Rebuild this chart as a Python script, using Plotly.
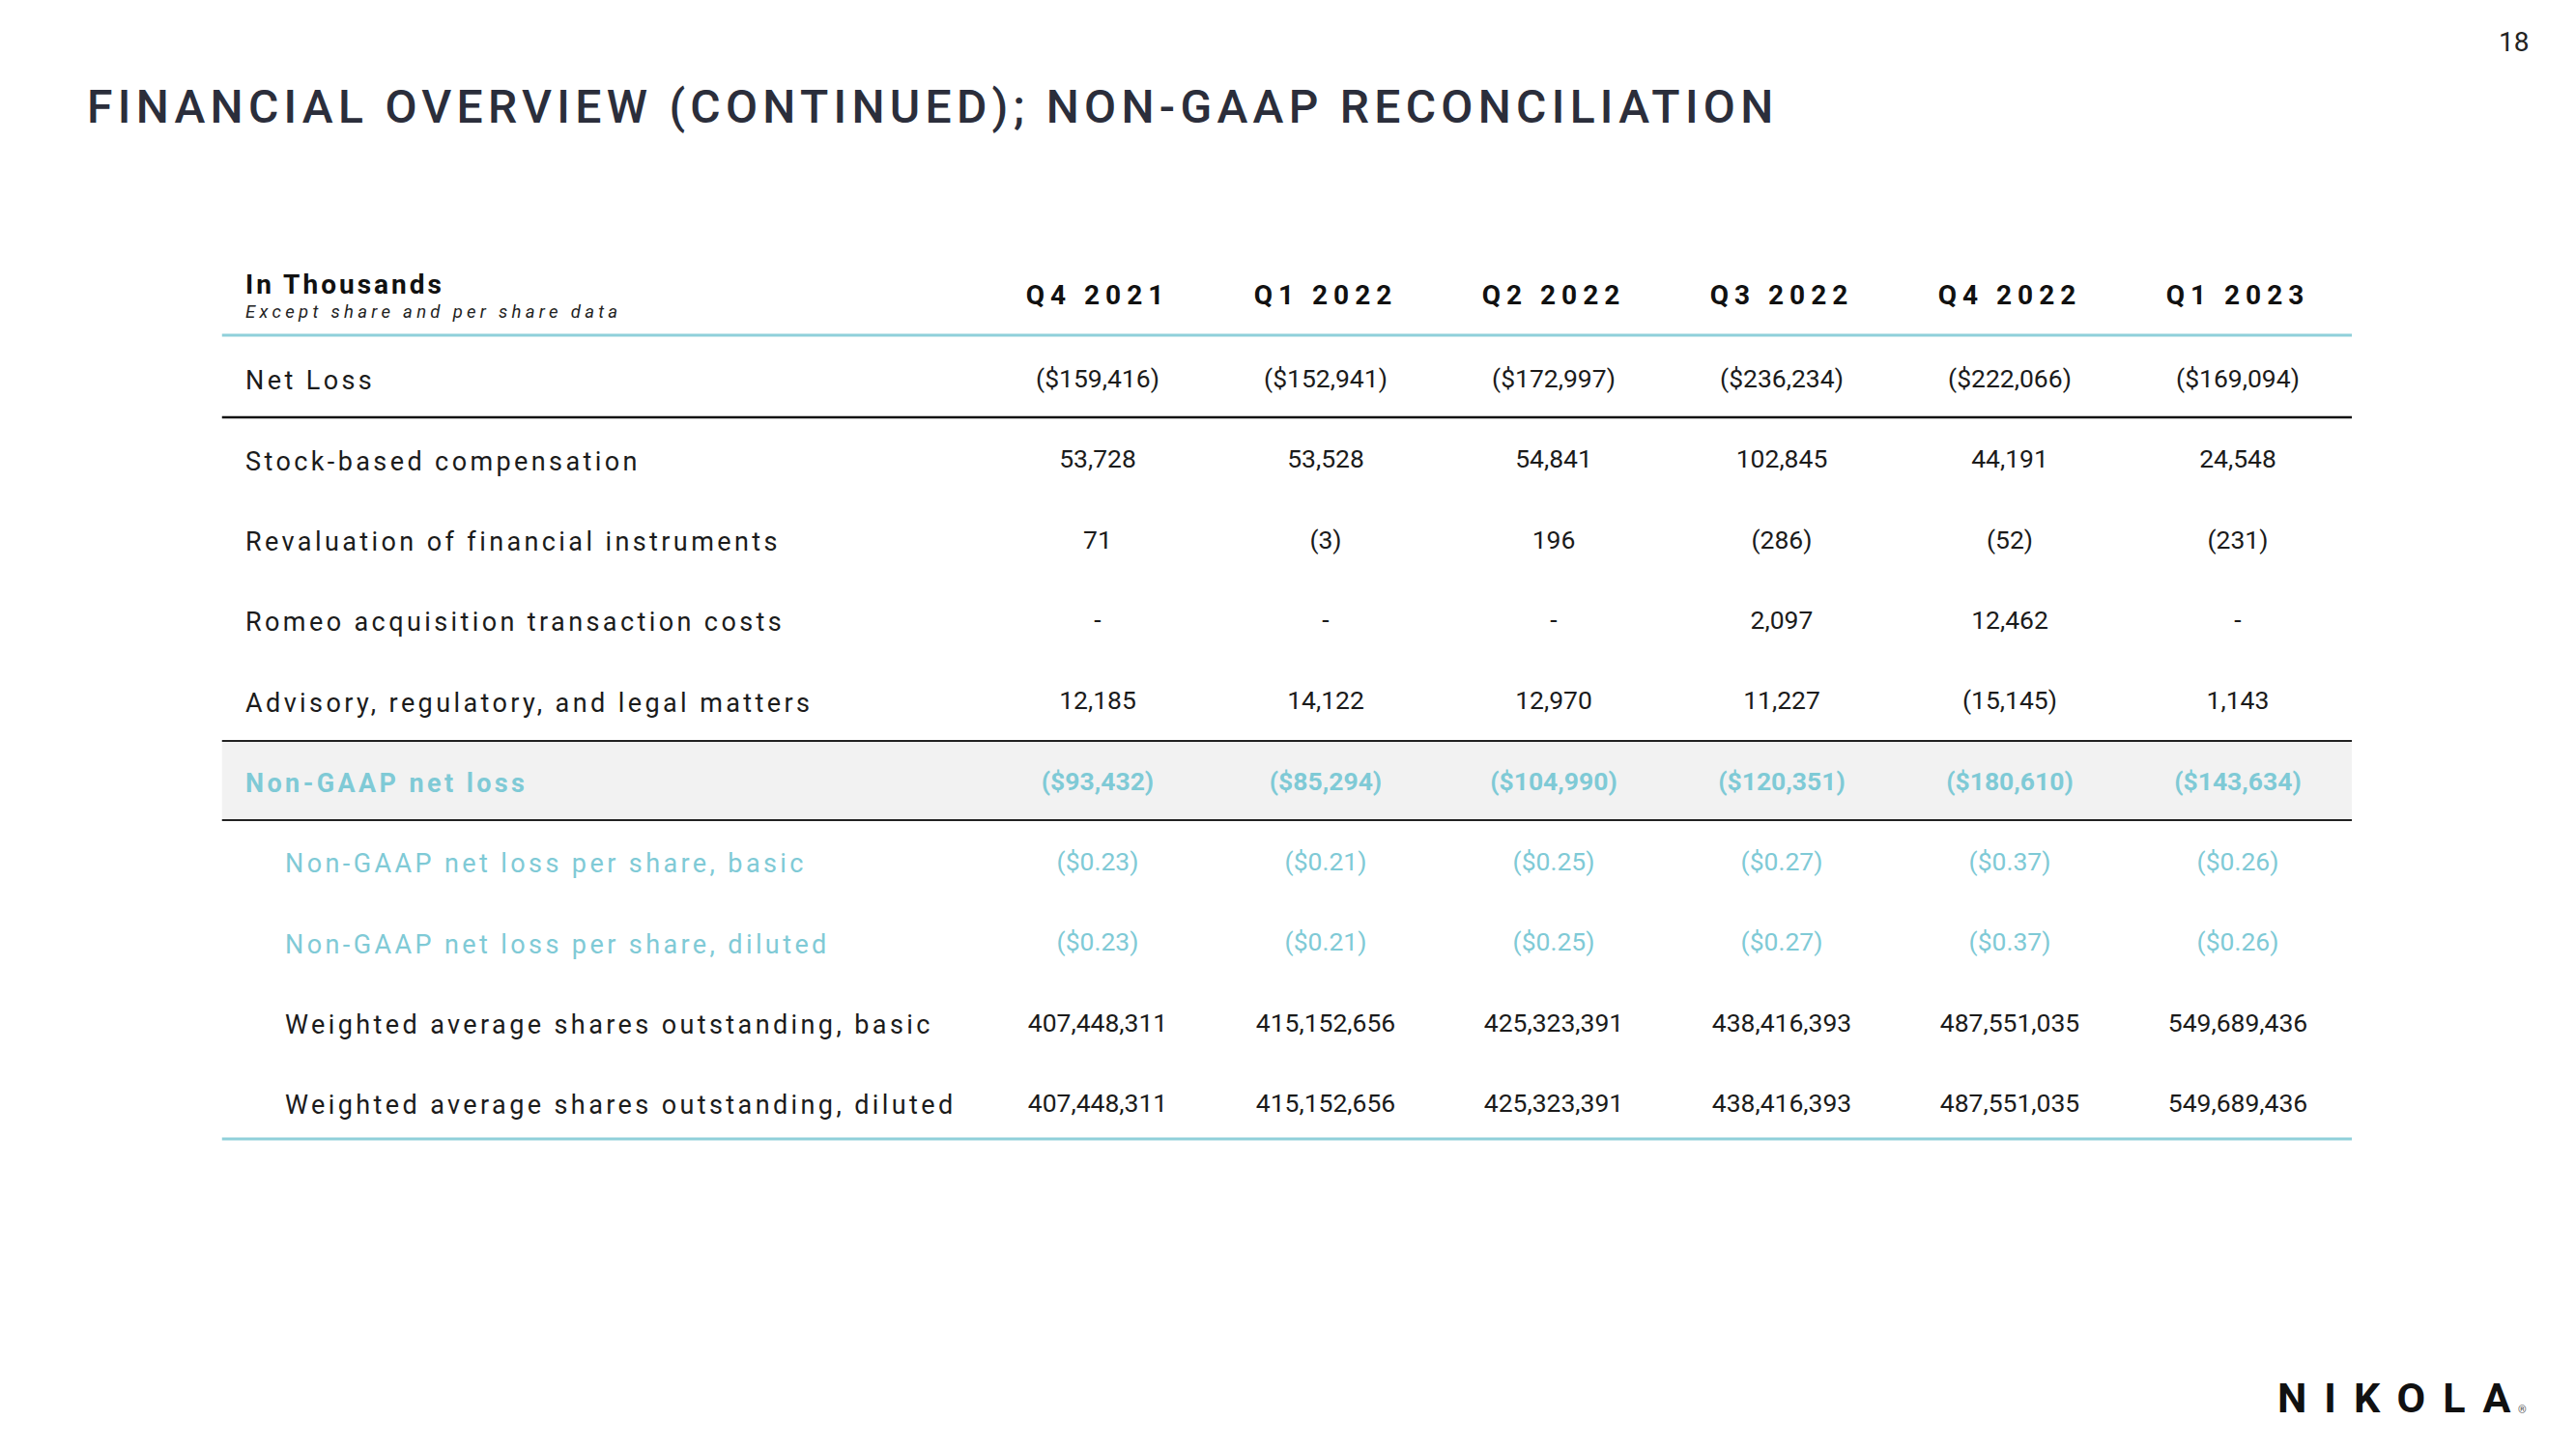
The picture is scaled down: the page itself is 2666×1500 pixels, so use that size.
import plotly.graph_objects as go

# ---------------- data ----------------
quarters = ["Q4 2021", "Q1 2022", "Q2 2022", "Q3 2022", "Q4 2022", "Q1 2023"]

row_labels = [
    "Net Loss",
    "Stock-based compensation",
    "Revaluation of financial instruments",
    "Romeo acquisition transaction costs",
    "Advisory, regulatory, and legal matters",
    "Non-GAAP net loss",
    "Non-GAAP net loss per share, basic",
    "Non-GAAP net loss per share, diluted",
    "Weighted average shares outstanding, basic",
    "Weighted average shares outstanding, diluted",
]

net_loss = [-159416, -152941, -172997, -236234, -222066, -169094]
stock_comp = [53728, 53528, 54841, 102845, 44191, 24548]
revaluation = [71, -3, 196, -286, -52, -231]
romeo_costs = [None, None, None, 2097, 12462, None]
advisory = [12185, 14122, 12970, 11227, -15145, 1143]
non_gaap_net_loss = [-93432, -85294, -104990, -120351, -180610, -143634]
eps_basic = [-0.23, -0.21, -0.25, -0.27, -0.37, -0.26]
eps_diluted = [-0.23, -0.21, -0.25, -0.27, -0.37, -0.26]
shares_basic = [407448311, 415152656, 425323391, 438416393, 487551035, 549689436]
shares_diluted = [407448311, 415152656, 425323391, 438416393, 487551035, 549689436]

title_text = "FINANCIAL OVERVIEW (CONTINUED); NON-GAAP RECONCILIATION"
unit_text = "In Thousands"
unit_sub = "Except share and per share data"
page_no = "18"
logo_text = "NIKOLA"

# ---------------- formatting ----------------
def fmt_dollar(v):
    return f"(${abs(v):,})" if v < 0 else f"${v:,}"

def fmt_num(v):
    if v is None:
        return "-"
    return f"({abs(v):,})" if v < 0 else f"{v:,}"

def fmt_eps(v):
    return f"(${abs(v):.2f})" if v < 0 else f"${v:.2f}"

def fmt_shares(v):
    return f"{v:,}"

def spaced(s, ls):
    return f'<span style="letter-spacing:{ls}px">{s}</span>'

BLACK = "#1b1b1b"
TEAL = "#7fcad6"
TITLE_C = "#2b2e3b"
FONT = "Roboto"

rows = [
    (net_loss, fmt_dollar, dict(color=BLACK, weight=400)),
    (stock_comp, fmt_num, dict(color=BLACK, weight=400)),
    (revaluation, fmt_num, dict(color=BLACK, weight=400)),
    (romeo_costs, fmt_num, dict(color=BLACK, weight=400)),
    (advisory, fmt_num, dict(color=BLACK, weight=400)),
    (non_gaap_net_loss, fmt_dollar, dict(color=TEAL, weight=700)),
    (eps_basic, fmt_eps, dict(color=TEAL, weight=400)),
    (eps_diluted, fmt_eps, dict(color=TEAL, weight=400)),
    (shares_basic, fmt_shares, dict(color=BLACK, weight=400)),
    (shares_diluted, fmt_shares, dict(color=BLACK, weight=400)),
]
label_styles = [
    (0, BLACK, 400), (0, BLACK, 400), (0, BLACK, 400), (0, BLACK, 400), (0, BLACK, 400),
    (0, TEAL, 700), (1, TEAL, 400), (1, TEAL, 400), (1, BLACK, 400), (1, BLACK, 400),
]

# page is W x H; the html body has an 8px margin, so the figure is inset
W, H = 2666, 1500
OFF = 8
FW, FH = W - 2 * OFF, H - 2 * OFF

def px(xp):   # page x pixel -> paper
    return (xp - OFF) / FW

def py(yp):   # page y pixel -> paper
    return 1 - (yp - OFF) / FH

fig = go.Figure()
col_idx = list(range(1, len(quarters) + 1))

# header row
fig.add_trace(go.Scatter(
    x=col_idx, y=[-0.04] * len(quarters), mode="text",
    text=[spaced(q, 6) for q in quarters],
    textposition="middle center",
    textfont=dict(family=FONT, size=28, color="#111111", weight=700),
    hoverinfo="skip", showlegend=False,
))

# data rows
for r, (vals, fmt, st) in enumerate(rows, start=1):
    fig.add_trace(go.Scatter(
        x=col_idx, y=[r] * len(vals), mode="text",
        text=[fmt(v) for v in vals],
        textposition="middle center",
        textfont=dict(family=FONT, size=26.5, color=st["color"], weight=st["weight"]),
        hoverinfo="skip", showlegend=False,
    ))

# row labels
LABEL_X = [-2.746, -2.572]
annotations = []
for r, (lab, (ind, col, wt)) in enumerate(zip(row_labels, label_styles), start=1):
    annotations.append(dict(
        x=LABEL_X[ind], y=r, xref="x", yref="y", xanchor="left", yanchor="middle",
        text=spaced(lab, 3.4), showarrow=False,
        font=dict(family=FONT, size=27, color=col, weight=wt),
    ))

annotations.append(dict(
    x=LABEL_X[0], y=-0.2, xref="x", yref="y", xanchor="left", yanchor="middle",
    text=spaced(unit_text, 3), showarrow=False,
    font=dict(family=FONT, size=28, color="#111111", weight=700),
))
annotations.append(dict(
    x=LABEL_X[0], y=0.14, xref="x", yref="y", xanchor="left", yanchor="middle",
    text=spaced(unit_sub, 4.3), showarrow=False,
    font=dict(family=FONT, size=18.5, color="#222222", weight=400, style="italic"),
))

# title, page number, logo
annotations.append(dict(
    x=px(88), y=py(111), xref="paper", yref="paper", xanchor="left", yanchor="middle",
    text=spaced(title_text, 5.3), showarrow=False,
    font=dict(family=FONT, size=48, color=TITLE_C, weight=500),
))
annotations.append(dict(
    x=px(2601), y=py(43), xref="paper", yref="paper", xanchor="center", yanchor="middle",
    text=page_no, showarrow=False,
    font=dict(family=FONT, size=28, color="#222222"),
))
annotations.append(dict(
    x=px(2355), y=py(1447), xref="paper", yref="paper", xanchor="left", yanchor="middle",
    text=spaced(logo_text[:-1], 18) + logo_text[-1], showarrow=False,
    font=dict(family=FONT, size=43, color="#111111", weight=700),
))
annotations.append(dict(
    x=px(2604), y=py(1459), xref="paper", yref="paper", xanchor="left", yanchor="middle",
    text="®", showarrow=False,
    font=dict(family=FONT, size=11, color="#555555"),
))

# column index i sits at page x = 900 + 236*i ; row j at page y = 311 + 83.33*j
X0, DX = 900.0, 236.0
Y0, DY = 311.0, 83.33

def ry(yp):   # page y pixel of a rule -> row units
    return (yp - Y0) / DY

# rules and highlight band
XL, XR = -2.84, 6.5
shapes = [
    dict(type="rect", xref="x", yref="y", x0=XL, x1=XR, y0=ry(767), y1=ry(849),
         fillcolor="#f2f2f2", line=dict(width=0), layer="below"),
    dict(type="line", xref="x", yref="y", x0=XL, x1=XR, y0=ry(347), y1=ry(347),
         line=dict(color="#8fd0da", width=3)),
    dict(type="line", xref="x", yref="y", x0=XL, x1=XR, y0=ry(432), y1=ry(432),
         line=dict(color="#111111", width=2.5)),
    dict(type="line", xref="x", yref="y", x0=XL, x1=XR, y0=ry(767), y1=ry(767),
         line=dict(color="#222222", width=1.8)),
    dict(type="line", xref="x", yref="y", x0=XL, x1=XR, y0=ry(849), y1=ry(849),
         line=dict(color="#222222", width=1.8)),
    dict(type="line", xref="x", yref="y", x0=XL, x1=XR, y0=ry(1179), y1=ry(1179),
         line=dict(color="#8fd0da", width=3)),
]

fig.update_layout(
    width=FW, height=FH,
    margin=dict(l=0, r=0, t=0, b=0),
    paper_bgcolor="white", plot_bgcolor="white",
    xaxis=dict(range=[(OFF - X0) / DX, (OFF + FW - X0) / DX], visible=False, fixedrange=True),
    yaxis=dict(range=[(OFF + FH - Y0) / DY, (OFF - Y0) / DY], visible=False, fixedrange=True),
    annotations=annotations, shapes=shapes,
    showlegend=False,
)

fig.write_html("out.html", config={"displayModeBar": False})
